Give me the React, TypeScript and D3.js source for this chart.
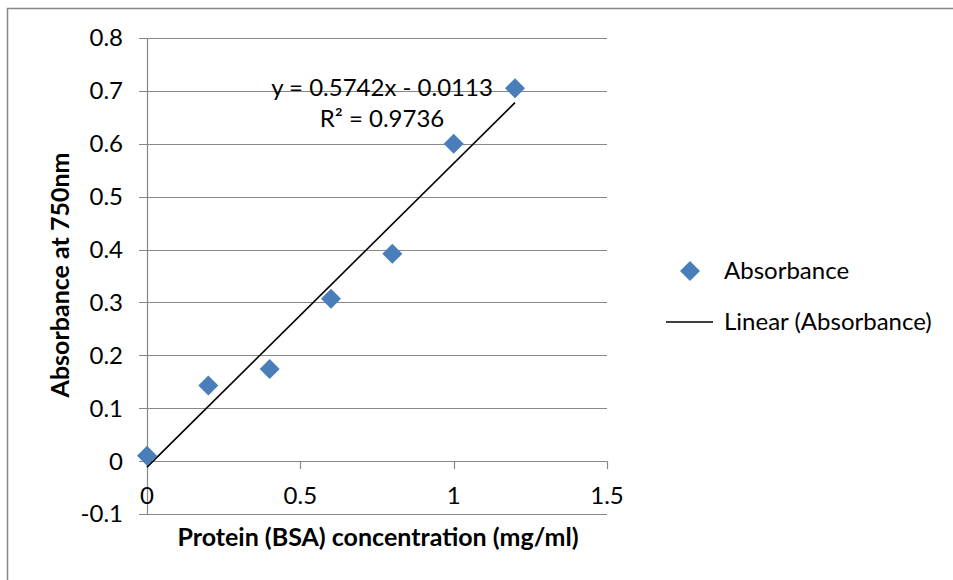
import React, { useEffect, useRef } from "react";
import * as d3 from "d3";

// protein standard (mg/ml) and measured absorbance
const concentration = [0, 0.2, 0.4, 0.6, 0.8, 1.0, 1.2];
const absorbance = [0.01, 0.143, 0.174, 0.307, 0.392, 0.6, 0.705];
const xTicks = [0, 0.5, 1, 1.5];
const yTicks = [-0.1, 0, 0.1, 0.2, 0.3, 0.4, 0.5, 0.6, 0.7, 0.8];
const slope = 0.5742;
const intercept = -0.0113;
const equationLabel = "y = 0.5742x - 0.0113";
const r2Label = "R² = 0.9736";
const seriesName = "Absorbance";
const trendName = "Linear (Absorbance)";

const W = 953;
const H = 580;
const FONT = "Lato, 'Open Sans', sans-serif";
const BLUE = "#4a7ebb";
const GRID = "#888888";

const fmtTick = (d: number) => (d === 0 ? "0" : d.toFixed(1).replace("−", "-"));

const App = () => {
  const ref = useRef<SVGSVGElement>(null);

  useEffect(() => {
    drawChart();
    //eslint-disable-next-line
  }, []);

  function drawChart() {
    const svg = d3.select(ref.current);
    svg.selectAll("*").remove();

    const x = d3.scaleLinear().domain([0, 1.5]).range([147, 607]);
    const y = d3.scaleLinear().domain([-0.1, 0.8]).range([514, 38]);

    // chart border (runs off the right/bottom edge)
    svg
      .append("rect")
      .attr("x", 7.5)
      .attr("y", 8.5)
      .attr("width", W + 20)
      .attr("height", H + 20)
      .attr("fill", "none")
      .attr("stroke", GRID)
      .attr("stroke-width", 1.5);

    // horizontal gridlines + y ticks
    svg
      .selectAll(".grid")
      .data(yTicks)
      .join("line")
      .attr("x1", x(0) - 8)
      .attr("x2", x(1.5))
      .attr("y1", (d) => Math.round(y(d)) + 0.5)
      .attr("y2", (d) => Math.round(y(d)) + 0.5)
      .attr("stroke", GRID)
      .attr("stroke-width", 1.2);

    // y axis line
    svg
      .append("line")
      .attr("x1", x(0) + 0.5)
      .attr("x2", x(0) + 0.5)
      .attr("y1", y(0.8))
      .attr("y2", y(-0.1))
      .attr("stroke", GRID)
      .attr("stroke-width", 1.2);

    // x tick marks on the zero line
    svg
      .selectAll(".xtick")
      .data(xTicks)
      .join("line")
      .attr("x1", (d) => Math.round(x(d)) + 0.5)
      .attr("x2", (d) => Math.round(x(d)) + 0.5)
      .attr("y1", y(0))
      .attr("y2", y(0) + 8)
      .attr("stroke", GRID)
      .attr("stroke-width", 1.2);

    svg
      .selectAll(".ylab")
      .data(yTicks)
      .join("text")
      .attr("x", 123)
      .attr("y", (d) => y(d))
      .attr("dy", "0.35em")
      .attr("text-anchor", "end")
      .attr("font-family", FONT)
      .attr("font-size", 24)
      .attr("fill", "#000")
      .text(fmtTick);

    // x labels sit between the zero line and the -0.1 gridline
    svg
      .selectAll(".xlab")
      .data(xTicks)
      .join("text")
      .attr("x", (d) => x(d))
      .attr("y", 496)
      .attr("dy", "0.35em")
      .attr("text-anchor", "middle")
      .attr("font-family", FONT)
      .attr("font-size", 24)
      .attr("fill", "#000")
      .text((d) => (d === 0 ? "0" : String(d)));

    // axis titles
    svg
      .append("text")
      .attr("x", 378)
      .attr("y", 546)
      .attr("text-anchor", "middle")
      .attr("font-family", FONT)
      .attr("font-weight", "bold")
      .attr("font-size", 25)
      .text("Protein (BSA) concentration (mg/ml)");

    svg
      .append("text")
      .attr("transform", `translate(69,275) rotate(-90)`)
      .attr("text-anchor", "middle")
      .attr("font-family", FONT)
      .attr("font-weight", "bold")
      .attr("font-size", 25)
      .text("Absorbance at 750nm");

    // trendline
    const ext = d3.extent(concentration) as [number, number];
    svg
      .append("line")
      .attr("x1", x(ext[0]))
      .attr("y1", y(slope * ext[0] + intercept))
      .attr("x2", x(ext[1]))
      .attr("y2", y(slope * ext[1] + intercept))
      .attr("stroke", "#000")
      .attr("stroke-width", 1.6);

    // diamonds
    const diamond = d3.symbol().type(d3.symbolSquare).size(200);
    svg
      .selectAll(".pt")
      .data(concentration.map((c, i) => [c, absorbance[i]]))
      .join("path")
      .attr("d", diamond)
      .attr("transform", (d) => `translate(${x(d[0])},${y(d[1])}) rotate(45)`)
      .attr("fill", BLUE);

    // equation label
    svg
      .append("text")
      .attr("x", 382)
      .attr("y", 88)
      .attr("dy", "0.35em")
      .attr("text-anchor", "middle")
      .attr("font-family", FONT)
      .attr("font-size", 24)
      .text(equationLabel);
    svg
      .append("text")
      .attr("x", 382)
      .attr("y", 119)
      .attr("dy", "0.35em")
      .attr("text-anchor", "middle")
      .attr("font-family", FONT)
      .attr("font-size", 24)
      .text(r2Label);

    // legend
    svg
      .append("path")
      .attr("d", diamond)
      .attr("transform", `translate(690,271) rotate(45)`)
      .attr("fill", BLUE);
    svg
      .append("text")
      .attr("x", 724)
      .attr("y", 271)
      .attr("dy", "0.35em")
      .attr("font-family", FONT)
      .attr("font-size", 24)
      .text(seriesName);
    svg
      .append("line")
      .attr("x1", 666)
      .attr("x2", 713)
      .attr("y1", 322)
      .attr("y2", 322)
      .attr("stroke", "#000")
      .attr("stroke-width", 1.6);
    svg
      .append("text")
      .attr("x", 724)
      .attr("y", 322)
      .attr("dy", "0.35em")
      .attr("font-family", FONT)
      .attr("font-size", 24)
      .text(trendName);
  }

  return (
    <svg
      ref={ref}
      width={W}
      height={H}
      style={{ position: "absolute", left: 0, top: 0, background: "#fff" }}
    />
  );
};

export default App;
